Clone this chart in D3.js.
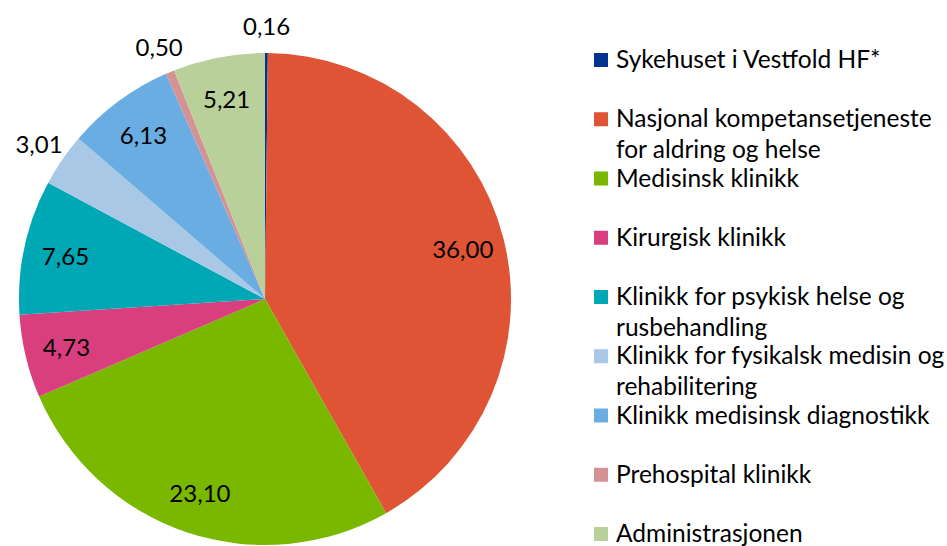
<!DOCTYPE html>
<html>
<head>
<meta charset="utf-8">
<script src="https://cdn.jsdelivr.net/npm/d3@7"></script>
<style>
  body { margin: 0; background: #fff; }
  text { font-family: Lato, "Noto Sans", sans-serif; fill: #000; }
</style>
</head>
<body>
<svg id="chart" width="947" height="546"></svg>
<script>
// units (legend order = slice order, clockwise from 12 o'clock)
const categories = [
  "Sykehuset i Vestfold HF*",
  "Nasjonal kompetansetjeneste\nfor aldring og helse",
  "Medisinsk klinikk",
  "Kirurgisk klinikk",
  "Klinikk for psykisk helse og\nrusbehandling",
  "Klinikk for fysikalsk medisin og\nrehabilitering",
  "Klinikk medisinsk diagnostikk",
  "Prehospital klinikk",
  "Administrasjonen"
];
const values = [0.16, 36.00, 23.10, 4.73, 7.65, 3.01, 6.13, 0.50, 5.21];
const colors = ["#00338d", "#de5435", "#7ab800", "#d93e7e", "#00a7b4",
                "#a8c8e6", "#6aade3", "#d39294", "#b9d09a"];

const svg = d3.select("#chart");
const cx = 265, cy = 299, R = 246;
const labelSize = 24, legendSize = 24.5;

const data = values.map((v, i) => ({ name: categories[i], value: v, color: colors[i] }));

const pie = d3.pie().sort(null).value(d => d.value);
const arcs = pie(data);
const arc = d3.arc().innerRadius(0).outerRadius(R);
const inLabel = d3.arc().innerRadius(R * 0.83).outerRadius(R * 0.83);
const outLabel = d3.arc().innerRadius(R + 28).outerRadius(R + 28);

const g = svg.append("g").attr("transform", `translate(${cx},${cy})`);

g.selectAll("path")
  .data(arcs)
  .join("path")
    .attr("d", arc)
    .attr("fill", d => d.data.color);

const fmt = v => v.toFixed(2).replace(".", ",");

g.selectAll("text.lbl")
  .data(arcs)
  .join("text")
    .attr("class", "lbl")
    .attr("transform", d => `translate(${(d.data.value < 4 ? outLabel : inLabel).centroid(d)})`)
    .attr("text-anchor", "middle")
    .attr("dominant-baseline", "central")
    .style("font-size", labelSize + "px")
    .text(d => fmt(d.data.value));

// legend
const legX = 594, legY0 = 68, legStep = 59.25, lineH = 31;
const leg = svg.append("g");
const item = leg.selectAll("g")
  .data(data)
  .join("g")
    .attr("transform", (d, i) => `translate(${legX},${legY0 + i * legStep})`);

item.append("rect")
  .attr("x", 0).attr("y", -15)
  .attr("width", 14).attr("height", 14)
  .attr("fill", d => d.color);

item.append("text")
  .attr("x", 22)
  .style("font-size", legendSize + "px")
  .selectAll("tspan")
  .data(d => d.name.split("\n"))
  .join("tspan")
    .attr("x", 22)
    .attr("y", (d, i) => i * lineH)
    .text(d => d);
</script>
</body>
</html>
